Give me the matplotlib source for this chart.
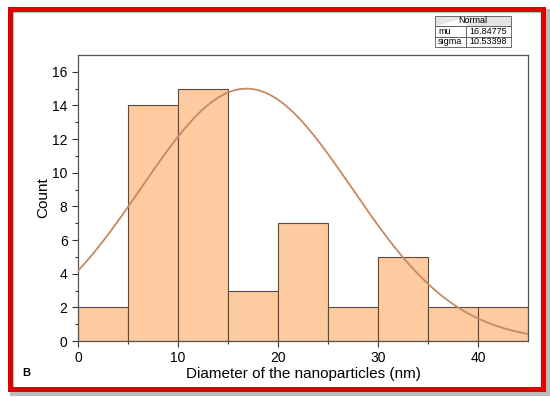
import matplotlib
matplotlib.use('Agg')
import matplotlib.pyplot as plt
import numpy as np
from matplotlib.patches import Rectangle

plt.rcParams['font.family'] = ['Liberation Sans', 'DejaVu Sans']

# Histogram data
bin_left = [0, 5, 10, 15, 20, 25, 30, 35, 40]
counts = [2, 14, 15, 3, 7, 2, 5, 2, 2]
bin_width = 5

# Normal fit
mu = 16.84775
sigma = 10.53398
peak = 15  # curve scaled to the tallest bar

fig = plt.figure(figsize=(5.5, 3.97), dpi=100)
ax = fig.add_axes([0.1418, 0.141, 0.8182, 0.7205])

ax.bar(bin_left, counts, width=bin_width, align='edge',
       color='#FDCB9F', edgecolor='#5a4a40', linewidth=0.8, zorder=2)

xs = np.linspace(0, 45, 300)
ax.plot(xs, peak * np.exp(-(xs - mu) ** 2 / (2 * sigma ** 2)),
        color='#C48A62', linewidth=1.3, zorder=3)

ax.set_xlim(0, 45)
ax.set_ylim(0, 17)
ax.set_xticks([0, 10, 20, 30, 40])
ax.set_xticks([5, 15, 25, 35], minor=True)
ax.set_yticks(range(0, 17, 2))
ax.set_yticks(range(1, 17, 2), minor=True)
ax.tick_params(which='major', direction='out', length=4, width=0.8, labelsize=10, colors='#333333', labelcolor='black')
ax.tick_params(which='minor', direction='out', length=2.5, width=0.8, colors='#333333')
for s in ax.spines.values():
    s.set_color('#555555')
    s.set_linewidth(0.9)

ax.set_xlabel('Diameter of the nanoparticles (nm)', fontsize=11, labelpad=1)
ax.set_ylabel('Count', fontsize=11, labelpad=1)

fig.text(22 / 550, 1 - 373 / 397, 'B', fontsize=8, fontweight='bold', va='center')

# Fit parameters table
tbl = ax.table(cellText=[['Normal', ''], ['mu', '16.84775'], ['sigma', '10.53398']],
               colWidths=[0.07, 0.1], cellLoc='right',
               bbox=[(435 - 78) / 450, (341 - 47) / 286, (511 - 435) / 450, 31 / 286])
tbl.auto_set_font_size(False)
for (r, c), cell in tbl.get_celld().items():
    cell.set_linewidth(0.6)
    cell.set_edgecolor('#555555')
    cell.get_text().set_fontsize(6.5)
    if c == 0:
        cell.get_text().set_ha('left')
        cell._loc = 'left'
    if r == 0:
        cell.set_facecolor('#E4E4E4')
tbl[0, 0].visible_edges = 'BLT'
tbl[0, 1].visible_edges = 'BRT'
tbl[0, 0].get_text().set_text('')
ax.text(((435 + 511) / 2 - 78) / 450, (341 - 21) / 286, 'Normal', transform=ax.transAxes,
        fontsize=6.5, ha='center', va='center', zorder=10)
for t in tbl.get_children():
    t.set_clip_on(False)

# Red frame with shadow
fig.patches.append(Rectangle((12 / 550, 1 - 394 / 397), 536 / 550, 383 / 397,
                             transform=fig.transFigure, facecolor='none',
                             edgecolor='#BBBBBB', linewidth=3, zorder=0))
fig.patches.append(Rectangle((9.5 / 550, 1 - 389 / 397), 533 / 550, 380 / 397,
                             transform=fig.transFigure, facecolor='none',
                             edgecolor='#E00000', linewidth=3.6, zorder=1))

fig.savefig('out.png', dpi=100)
